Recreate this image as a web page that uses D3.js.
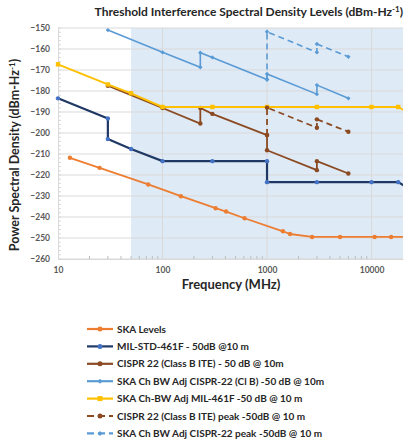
<!DOCTYPE html>
<html>
<head>
<meta charset="utf-8">
<script src="https://cdn.jsdelivr.net/npm/d3@7"></script>
<style>
  body { margin: 0; background: #fff; }
  svg text { font-family: Lato, "Open Sans", sans-serif; }
</style>
</head>
<body>
<script>
var margin = {top: 28, right: 3, bottom: 180, left: 58},
    width = 406 - margin.left - margin.right,
    height = 439 - margin.top - margin.bottom;

// frequency (MHz), level (dBm/Hz)
var skaLevels = [[13,-211.8],[25,-216.6],[73,-224.5],[150,-230.1],[322,-235.8],[406,-237.4],[610,-240.6],
  [1420,-246.8],[1660,-248.1],[2700,-249.5],[5000,-249.5],[10700,-249.5],[15400,-249.5],[22000,-249.5]];
var milStd = [[10,-183.5],[30,-193.1],[30,-202.9],[50,-207.6],[100,-213.4],[300,-213.4],[1000,-213.4],
  [1000,-223.4],[3000,-223.4],[10000,-223.4],[18000,-223.4],[40000,-233.4]];
var cispr = [[30,-177.5],[100,-188.1],[230,-195.5],[230,-188.1],[300,-190.9],[1000,-201.0],[1000,-208.2],
  [3000,-217.7],[3000,-213.4],[6000,-219.3]];
var skaCispr = [[30,-151.0],[100,-161.6],[230,-168.7],[230,-161.8],[300,-164.0],[1000,-174.5],[1000,-171.9],
  [3000,-181.5],[3000,-177.2],[6000,-183.5]];
var skaMil = [[10,-167.3],[30,-176.9],[50,-181.1],[100,-187.6],[300,-187.6],[1000,-187.6],[3000,-187.6],
  [10000,-187.6],[18000,-187.6],[40000,-197.6]];
var cisprPeak = [[1000,-201.0],[1000,-187.9],[3000,-197.5],[3000,-193.5],[6000,-199.4]];
var skaCisprPeak = [[1000,-174.5],[1000,-151.8],[3000,-161.6],[3000,-157.6],[6000,-163.7]];

var series = [
  {name: "SKA Levels", data: skaLevels, color: "#ed7d31", marker: "#ed7d31", shape: "circle", dash: null, w: 1.8},
  {name: "MIL-STD-461F - 50dB @10 m", data: milStd, color: "#203864", marker: "#4472c4", shape: "circle", dash: null, w: 2.2},
  {name: "CISPR 22 (Class B ITE) - 50 dB @ 10m", data: cispr, color: "#8b4a22", marker: "#8b4a22", shape: "circle", dash: null, w: 1.8},
  {name: "SKA Ch BW Adj CISPR-22 (Cl B) -50 dB @ 10m", data: skaCispr, color: "#5b9bd5", marker: "#5b9bd5", shape: "diamond", dash: null, w: 1.6},
  {name: "SKA Ch-BW Adj MIL-461F -50 dB @ 10 m", data: skaMil, color: "#ffc000", marker: "#ffc000", shape: "square", dash: null, w: 1.9},
  {name: "CISPR 22 (Class B ITE) peak -50dB @ 10 m", data: cisprPeak, color: "#8b4a22", marker: "#8b4a22", shape: "circle", dash: "6,4", w: 1.8},
  {name: "SKA Ch BW Adj CISPR-22 peak -50dB @ 10 m", data: skaCisprPeak, color: "#5b9bd5", marker: "#5b9bd5", shape: "diamond", dash: "6,4", w: 1.6}
];
// draw order (later on top)
var drawOrder = [0, 1, 3, 2, 4, 5, 6];

var yTicks = d3.range(-150, -261, -10);
var xTicks = [10, 100, 1000, 10000];
var bandStart = 50;

var svg = d3.select("body").append("svg")
    .attr("width", 406)
    .attr("height", 439);

var x = d3.scaleLog().domain([10, 20000]).range([0, width]);
var y = d3.scaleLinear().domain([-260, -150]).range([height, 0]);

svg.append("text")
    .attr("x", 403).attr("y", 16)
    .attr("text-anchor", "end")
    .style("font-size", "12px").style("font-weight", "bold").style("fill", "#262626")
    .html("Threshold Interference Spectral Density Levels (dBm-Hz<tspan dy='-4' font-size='8px'>-1</tspan><tspan dy='4'>)</tspan>");

var g = svg.append("g")
    .attr("transform", "translate(" + margin.left + "," + margin.top + ")");

g.append("defs").append("clipPath").attr("id", "clip")
  .append("rect").attr("x", -4).attr("y", -4).attr("width", width + 4).attr("height", height + 8);

// shaded band
g.append("rect")
    .attr("x", x(bandStart)).attr("y", 0)
    .attr("width", width - x(bandStart)).attr("height", height)
    .style("fill", "#deeaf6");

// gridlines
g.selectAll(".hgrid").data(yTicks).enter().append("line")
    .attr("x1", 0).attr("x2", width)
    .attr("y1", function(d) { return y(d); }).attr("y2", function(d) { return y(d); })
    .style("stroke", "#d9d9d9").style("stroke-width", 1);
g.selectAll(".vgrid").data(xTicks.slice(1)).enter().append("line")
    .attr("y1", 0).attr("y2", height)
    .attr("x1", function(d) { return x(d); }).attr("x2", function(d) { return x(d); })
    .style("stroke", "#d9d9d9").style("stroke-width", 1);

// axes
var yAxis = d3.axisLeft(y).tickValues(yTicks).tickSize(0).tickPadding(8);
var gy = g.append("g").call(yAxis);
gy.select(".domain").style("stroke", "#d9d9d9");
gy.selectAll("text").style("font-size", "8.5px").style("font-weight", "bold").style("fill", "#595959");

var yMinor = d3.range(-260, -149, 2);
g.selectAll(".ymin").data(yMinor).enter().append("line")
    .attr("x1", 0).attr("x2", 3)
    .attr("y1", function(d) { return y(d); }).attr("y2", function(d) { return y(d); })
    .style("stroke", "#d9d9d9");

var xAxis = d3.axisBottom(x).tickValues(xTicks).tickFormat(d3.format("d")).tickSize(0).tickPadding(8);
var gx = g.append("g").attr("transform", "translate(0," + height + ")").call(xAxis);
gx.select(".domain").style("stroke", "#d9d9d9");
gx.selectAll("text").style("font-size", "8.5px").style("font-weight", "bold").style("fill", "#595959");

var xMinor = x.ticks().filter(function(d) { return xTicks.indexOf(d) < 0 && d < 20000; });
g.selectAll(".xmin").data(xMinor).enter().append("line")
    .attr("x1", function(d) { return x(d); }).attr("x2", function(d) { return x(d); })
    .attr("y1", height).attr("y2", height - 3)
    .style("stroke", "#bfbfbf");

// axis titles
svg.append("text")
    .attr("x", 231).attr("y", 289)
    .attr("text-anchor", "middle")
    .style("font-size", "13px").style("font-weight", "bold").style("fill", "#262626")
    .text("Frequency (MHz)");

svg.append("text")
    .attr("transform", "translate(19,155) rotate(-90)")
    .attr("text-anchor", "middle")
    .style("font-size", "12.5px").style("font-weight", "bold").style("fill", "#262626")
    .html("Power Spectral Density (dBm-Hz<tspan dy='-4' font-size='8px'>-1</tspan><tspan dy='4'>)</tspan>");

// lines
var line = d3.line()
    .x(function(d) { return x(d[0]); })
    .y(function(d) { return y(d[1]); });

var plot = g.append("g").attr("clip-path", "url(#clip)");

function drawMarker(sel, s, px, py, size) {
  if (s.shape === "circle") {
    sel.append("circle").attr("cx", px).attr("cy", py).attr("r", size)
      .style("fill", s.marker);
  } else if (s.shape === "square") {
    sel.append("rect").attr("x", px - size).attr("y", py - size)
      .attr("width", size * 2).attr("height", size * 2).style("fill", s.marker);
  } else {
    sel.append("path")
      .attr("d", "M" + px + "," + (py - size) + "L" + (px + size) + "," + py + "L" + px + "," + (py + size) + "L" + (px - size) + "," + py + "Z")
      .style("fill", s.marker);
  }
}

drawOrder.forEach(function(i) {
  var s = series[i];
  plot.append("path")
      .datum(s.data)
      .attr("d", line)
      .style("fill", "none")
      .style("stroke", s.color)
      .style("stroke-width", s.w)
      .style("stroke-dasharray", s.dash);
  var mg = plot.append("g");
  s.data.forEach(function(d) {
    drawMarker(mg, s, x(d[0]), y(d[1]), 2.2);
  });
});

// legend
var legend = svg.append("g").attr("transform", "translate(87,329)");
var item = legend.selectAll(".item").data(series).enter().append("g")
    .attr("transform", function(d, i) { return "translate(0," + (i * 17.4) + ")"; });
item.append("line")
    .attr("x1", 0).attr("x2", 26)
    .style("stroke", function(d) { return d.color; })
    .style("stroke-width", 2.2)
    .style("stroke-dasharray", function(d) { return d.dash ? "7,4" : null; });
item.each(function(d) {
  drawMarker(d3.select(this), d, 13, 0, 2.5);
});
item.append("text")
    .attr("x", 30).attr("dy", "0.35em")
    .style("font-size", "10px").style("font-weight", "bold").style("fill", "#262626")
    .text(function(d) { return d.name; });
</script>
</body>
</html>
